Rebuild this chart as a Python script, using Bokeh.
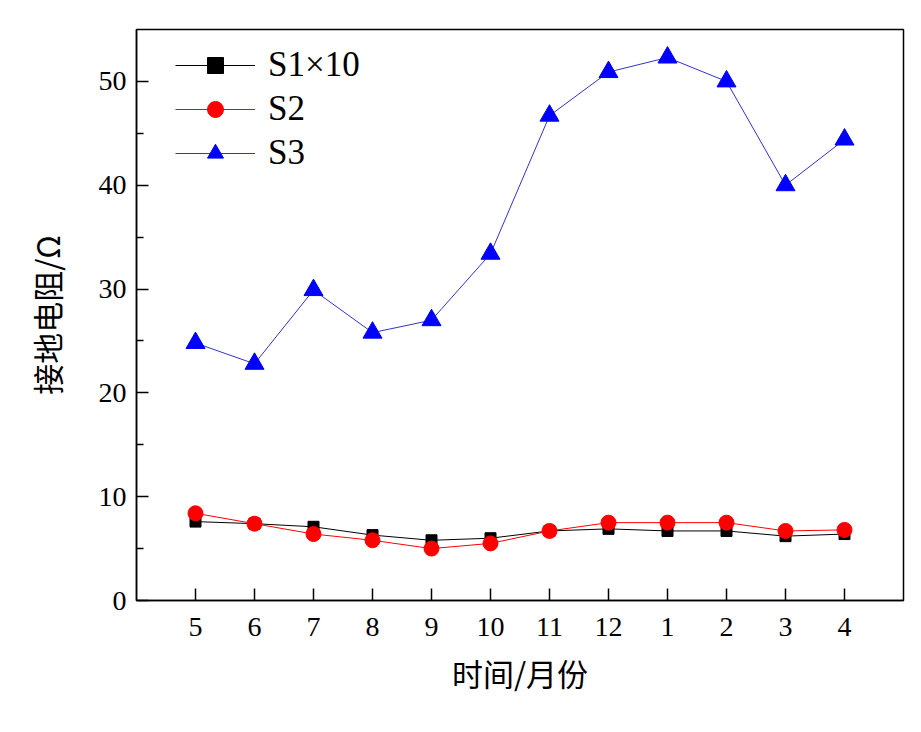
from bokeh.plotting import figure
from bokeh.models import Range1d, FixedTicker, Legend, LegendItem
from bokeh.embed import file_html
from bokeh.resources import INLINE

# ---- data ----
months = ["5", "6", "7", "8", "9", "10", "11", "12", "1", "2", "3", "4"]
s1x10 = [7.6, 7.4, 7.1, 6.3, 5.8, 6.0, 6.7, 6.9, 6.7, 6.7, 6.2, 6.4]
s2 = [8.4, 7.4, 6.4, 5.8, 5.0, 5.5, 6.7, 7.5, 7.5, 7.5, 6.7, 6.8]
s3 = [24.8, 22.8, 29.9, 25.8, 27.0, 33.4, 46.7, 50.9, 52.3, 50.0, 40.0, 44.4]
y_ticks = [0, 10, 20, 30, 40, 50]
y_minor = [5, 15, 25, 35, 45]
x_title = "时间/月份"
y_title = "接地电阻/Ω"

xpos = list(range(1, len(months) + 1))

SERIF = "Liberation Serif"
CJK = "Noto Sans CJK SC"

p = figure(width=910, height=720, output_backend="svg", toolbar_location=None,
           x_range=Range1d(0, 13), y_range=Range1d(0, 55),
           min_border_left=136, min_border_right=7, min_border_top=29, min_border_bottom=120)
p.background_fill_color = "white"
p.border_fill_color = "white"
p.xgrid.visible = False
p.ygrid.visible = False
p.outline_line_color = "black"
p.outline_line_width = 1.5
p.outline_line_alpha = 1

l1 = p.line(xpos, s1x10, line_color="black", line_width=1)
m1 = p.scatter(xpos, s1x10, marker="square", size=11, fill_color="black", line_color="black")
l2 = p.line(xpos, s2, line_color="red", line_width=1)
m2 = p.scatter(xpos, s2, marker="circle", size=15, fill_color="red", line_color="red")
l3 = p.line(xpos, s3, line_color="#3333cc", line_width=1)
m3 = p.scatter(xpos, s3, marker="triangle", size=19, fill_color="blue", line_color="blue")

# axes
xa = p.xaxis[0]
xa.ticker = FixedTicker(ticks=xpos, minor_ticks=[])
xa.major_label_overrides = {x: m for x, m in zip(xpos, months)}
ya = p.yaxis[0]
ya.ticker = FixedTicker(ticks=y_ticks, minor_ticks=y_minor)
for ax in (xa, ya):
    ax.axis_line_color = "black"
    ax.axis_line_width = 1.5
    ax.major_tick_in = 12
    ax.major_tick_out = 0
    ax.minor_tick_in = 7
    ax.minor_tick_out = 0
    ax.major_tick_line_color = "black"
    ax.major_tick_line_width = 1.5
    ax.minor_tick_line_color = "black"
    ax.minor_tick_line_width = 1.5
    ax.major_label_text_font = SERIF
    ax.major_label_text_font_size = "28px"
    ax.major_label_text_color = "black"
    ax.axis_label_text_font = CJK
    ax.axis_label_text_font_size = "31px"
    ax.axis_label_text_font_style = "normal"
    ax.axis_label_text_color = "black"
xa.axis_label = x_title
ya.axis_label = y_title
xa.major_label_standoff = 17
ya.major_label_standoff = 10
xa.axis_label_standoff = 11
ya.axis_label_standoff = 27

legend = Legend(items=[
    LegendItem(label="S1×10", renderers=[l1, m1]),
    LegendItem(label="S2", renderers=[l2, m2]),
    LegendItem(label="S3", renderers=[l3, m3]),
], location=(39, 427))
legend.border_line_color = None
legend.background_fill_alpha = 0
legend.padding = 0
legend.margin = 0
legend.spacing = 4
legend.glyph_width = 80
legend.glyph_height = 40
legend.label_height = 40
legend.label_standoff = 13
legend.label_text_font = SERIF
legend.label_text_font_size = "35px"
legend.label_text_color = "black"
p.add_layout(legend, "center")

open("out.html", "w").write(file_html(p, INLINE))
